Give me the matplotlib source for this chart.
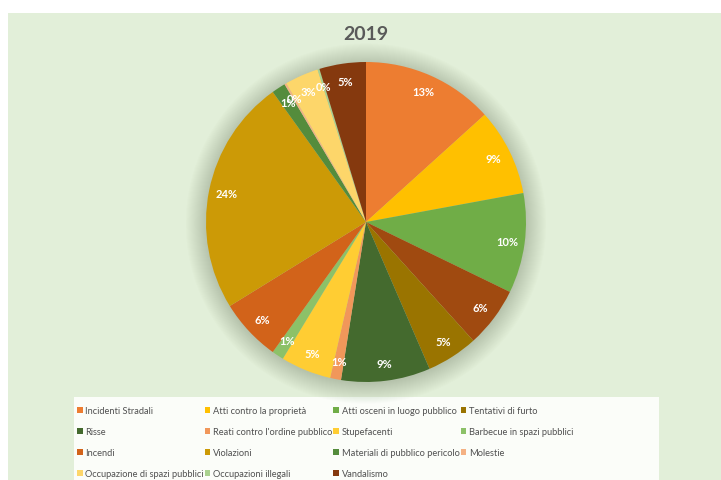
import matplotlib.pyplot as plt
from matplotlib.patches import Rectangle, Circle

plt.rcParams['font.family'] = ['Lato', 'DejaVu Sans']

# categorie nell'ordine del foglio (una riga senza nome)
categorie = ['Incidenti Stradali', 'Atti contro la proprietà', 'Atti osceni in luogo pubblico', '',
             'Tentativi di furto', 'Risse', "Reati contro l'ordine pubblico", 'Stupefacenti',
             'Barbecue in spazi pubblici', 'Incendi', 'Violazioni', 'Materiali di pubblico pericolo',
             'Molestie', 'Occupazione di spazi pubblici', 'Occupazioni illegali', 'Vandalismo']
valori = [13.3, 8.8, 10.1, 6.1, 5.2, 9.0, 1.1, 5.1, 1.2, 6.3, 23.9, 1.4, 0.2, 3.4, 0.2, 4.7]
colori = ['#ed7d31', '#ffc000', '#70ad47', '#a04a10', '#9a7400', '#446a2e', '#f1975a', '#ffcd33',
          '#8cc168', '#d2631a', '#cc9a06', '#548c3c', '#f4b183', '#fdd66a', '#a9d18e', '#85390e']

W, H = 721, 481
fig = plt.figure(figsize=(W / 100, H / 100), dpi=100)
fig.patch.set_facecolor('white')

# sfondo verde del grafico e riquadro della legenda
fig.add_artist(Rectangle((8 / W, 0), 1, 1 - 14 / H, transform=fig.transFigure,
                         facecolor='#e2efd9', edgecolor='none', zorder=-10))
fig.add_artist(Rectangle((74 / W, 0), (659 - 74) / W, (481 - 398) / H, transform=fig.transFigure,
                         facecolor='#fbfdf9', edgecolor='none', zorder=-9))

fig.text(366 / W, 1 - 35 / H, '2019', ha='center', va='center', fontsize=14,
         fontweight='bold', color='#595959')

cx, cy, R = 366, 223, 160
ax = fig.add_axes([(cx - R) / W, (H - cy - R) / H, 2 * R / W, 2 * R / H])

# ombra morbida attorno alla torta
for i in range(22):
    ax.add_patch(Circle((0, -0.01), 1 + 0.006 * i, facecolor='#3d5a2c', edgecolor='none',
                        alpha=0.011, zorder=0, clip_on=False))

wedges, _, autotexts = ax.pie(valori, colors=colori, startangle=90, counterclock=False,
                              autopct='%.0f%%', pctdistance=0.89,
                              wedgeprops=dict(linewidth=0, zorder=2),
                              textprops=dict(color='white', fontsize=8, fontweight='bold'))
for t in autotexts:
    t.set_zorder(5)
ax.set_xlim(-1, 1)
ax.set_ylim(-1, 1)
ax.axis('off')

# legenda riga per riga, come in Excel (matplotlib riempie per colonne)
voci = [(w, c) for w, c in zip(wedges, categorie) if c]
ncol, nrow = 4, 4
ordine = [voci[r * ncol + c] for c in range(ncol) for r in range(nrow) if r * ncol + c < len(voci)]
leg = fig.legend([v[0] for v in ordine], [v[1] for v in ordine], loc='upper left',
                 bbox_to_anchor=(77 / W, 1 - 407 / H), ncol=ncol, frameon=False, fontsize=6.7,
                 handlelength=0.6, handleheight=0.6, handletextpad=0.3, columnspacing=0.1,
                 labelspacing=1.3, borderaxespad=0, borderpad=0)
for t in leg.get_texts():
    t.set_color('#505050')

fig.savefig('out.png', dpi=100, facecolor='white')
